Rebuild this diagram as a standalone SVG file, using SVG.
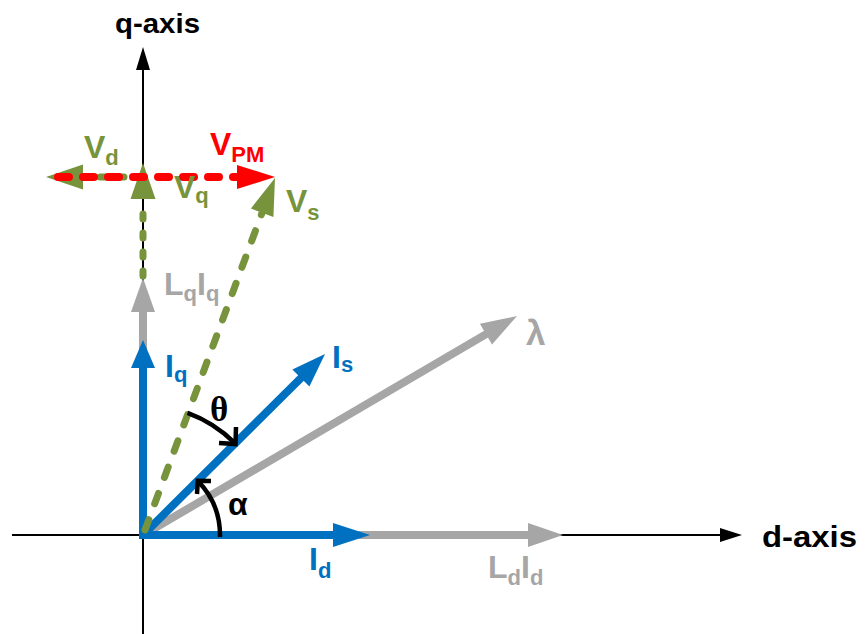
<svg xmlns="http://www.w3.org/2000/svg" width="867" height="634" viewBox="0 0 867 634">
<style>
text{font-family:"Liberation Sans",Arial,sans-serif;font-weight:bold}
.axis{stroke:#000;stroke-width:2;fill:none}
.blue{fill:#0070C0}.gray{fill:#A6A6A6}.green{fill:#77933C}.red{fill:#FF0000}.black{fill:#000}
.bl{stroke:#0070C0;stroke-width:8;fill:none}
.gl{stroke:#A6A6A6;stroke-width:8;fill:none}
.gd{stroke:#77933C;stroke-width:7;fill:none;stroke-linecap:round}
.rd{stroke:#FF0000;stroke-width:8;fill:none;stroke-linecap:round;stroke-dasharray:11 14}
.arc{stroke:#000;stroke-width:4.5;fill:none}
.sub{font-size:22px}
</style>
<rect width="867" height="634" fill="#fff"/>
<g id="axes">
<line class="axis" x1="143" y1="634" x2="143" y2="66"/>
<polygon class="black" points="143,47 136,70 150,70"/>
<line class="axis" x1="12" y1="535" x2="724" y2="535"/>
<polygon class="black" points="742,535 720,528 720,542"/>
<text id="q-axis" x="115" y="33" font-size="28" textLength="85" lengthAdjust="spacingAndGlyphs">q-axis</text>
<text id="d-axis" x="762" y="547" font-size="30" textLength="95" lengthAdjust="spacingAndGlyphs">d-axis</text>
</g>
<g id="connectors">
<g id="Vq">
<line class="gd" x1="143" y1="276" x2="143" y2="200" stroke-dasharray="5 14"/>
<polygon class="green" points="143,163 130.5,199 155.5,199"/>
</g>
<g id="Vd">
<line class="gd" x1="143" y1="177" x2="84" y2="177" stroke-dasharray="5 14"/>
<polygon class="green" points="46,177 83,164.5 83,189.5"/>
</g>
<g id="LdId">
<line class="gl" x1="330" y1="535" x2="530" y2="535"/>
<polygon class="gray" points="563,535 528,523 528,547"/>
</g>
<g id="LqIq">
<line class="gl" x1="143" y1="372" x2="143" y2="310"/>
<polygon class="gray" points="143,278 131,312 155,312"/>
</g>
<g id="lambda">
<line class="gl" x1="143" y1="535" x2="487" y2="333.6"/>
<polygon class="gray" points="517,316 492,344.6 479.9,323.8"/>
</g>
<g id="Id">
<line class="bl" x1="143" y1="535" x2="335" y2="535"/>
<polygon class="blue" points="370,535 333,523 333,547"/>
</g>
<g id="Iq">
<line class="bl" x1="143" y1="539" x2="143" y2="366"/>
<polygon class="blue" points="143,340 131,368 155,368"/>
</g>
<g id="Is">
<line class="bl" x1="143" y1="535" x2="302" y2="377"/>
<polygon class="blue" points="325,354 309.4,386.5 292.4,369.5"/>
</g>
<g id="Vs">
<line class="gd" x1="145" y1="530" x2="262" y2="213" stroke-dasharray="11 17"/>
<polygon class="green" points="275,178 273.4,216.9 250.9,208.5"/>
</g>
<g id="VPM">
<line class="rd" x1="58" y1="177" x2="240" y2="177"/>
<polygon class="red" points="275,177 237,165 237,189"/>
</g>
<g id="theta-arc">
<path class="arc" d="M187.5,412.8 A130,130 0 0 1 234.9,443.1"/>
<path class="arc" d="M219,443 L235.5,444 L236,427"/>
</g>
<g id="alpha-arc">
<path class="arc" d="M220,537 L220,535 A77,77 0 0 0 197.4,480.6"/>
<path class="arc" d="M197,494 L197.8,480.8 L211,481"/>
</g>
</g>
<g id="labels">
<text id="lbl-Vd" class="green" x="84" y="158" font-size="32">V<tspan class="sub" dy="7">d</tspan></text>
<text id="lbl-VPM" class="red" x="210" y="155" font-size="32">V<tspan class="sub" dy="7">PM</tspan></text>
<text id="lbl-Vq" class="green" x="174" y="198" font-size="32">V<tspan class="sub" dy="5">q</tspan></text>
<text id="lbl-Vs" class="green" x="286" y="212" font-size="32">V<tspan class="sub" dy="8">s</tspan></text>
<text id="lbl-LqIq" class="gray" x="164" y="295" font-size="32">L<tspan class="sub" dy="6">q</tspan><tspan dy="-6">I</tspan><tspan class="sub" dy="6">q</tspan></text>
<text id="lbl-Iq" class="blue" x="165" y="377" font-size="32">I<tspan class="sub" dy="5">q</tspan></text>
<text id="lbl-Is" class="blue" x="332" y="368" font-size="32">I<tspan class="sub" dy="4">s</tspan></text>
<text id="lbl-lambda" class="gray" x="526" y="345" font-size="35">λ</text>
<text id="lbl-theta" class="black" x="210" y="421" font-size="35" style="font-family:'Liberation Serif',serif">θ</text>
<text id="lbl-alpha" class="black" x="228" y="515" font-size="32">α</text>
<text id="lbl-Id" class="blue" x="309" y="570" font-size="32">I<tspan class="sub" dy="8">d</tspan></text>
<text id="lbl-LdId" class="gray" x="488" y="578" font-size="32">L<tspan class="sub" dy="7">d</tspan><tspan dy="-7">I</tspan><tspan class="sub" dy="7">d</tspan></text>
</g>
</svg>
